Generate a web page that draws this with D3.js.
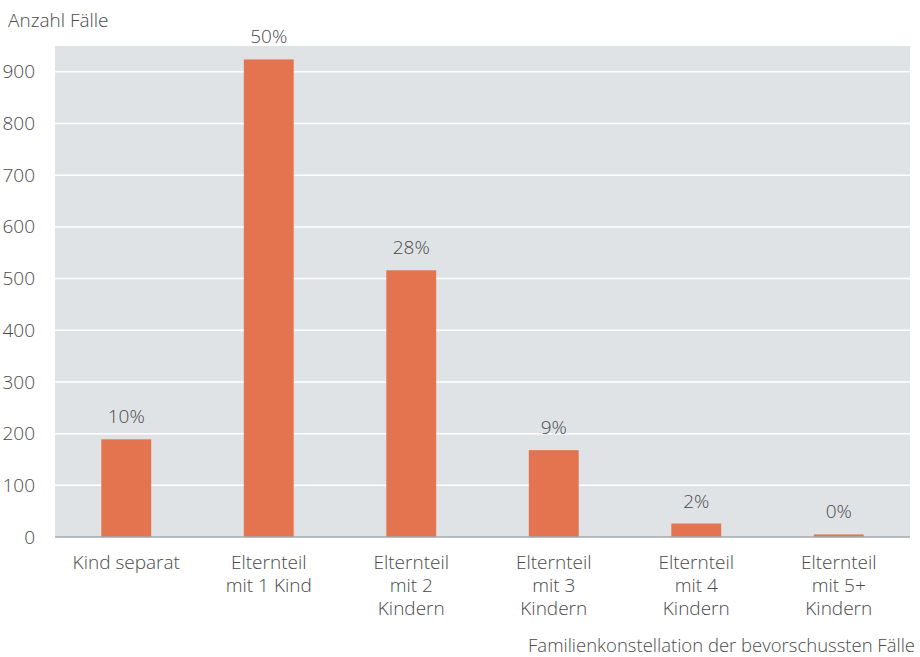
<!DOCTYPE html>
<html>
<head>
<meta charset="utf-8">
<script src="https://cdn.jsdelivr.net/npm/d3@7"></script>
<style>
  html, body { margin: 0; padding: 0; background: #fff; }
  svg { display: block; }
  text { font-family: "Open Sans", "Noto Sans", sans-serif; font-weight: 300; fill: #4a4a4a; }
</style>
</head>
<body>
<svg id="chart" width="920" height="657"></svg>
<script>
// Fälle nach Familienkonstellation
const categories = [
  ["Kind separat"],
  ["Elternteil", "mit 1 Kind"],
  ["Elternteil", "mit 2", "Kindern"],
  ["Elternteil", "mit 3", "Kindern"],
  ["Elternteil", "mit 4", "Kindern"],
  ["Elternteil", "mit 5+", "Kindern"]
];
const cases = [189, 924, 516, 168, 26, 5];
const shareLabels = ["10%", "50%", "28%", "9%", "2%", "0%"];
const yTicks = [0, 100, 200, 300, 400, 500, 600, 700, 800, 900];

const svg = d3.select("#chart");
const margin = { left: 55, right: 10, top: 46, bottom: 120 };
const W = 920, H = 657;
const plotBottom = 537;
const fs = 19;

const x = d3.scaleBand()
  .domain(d3.range(categories.length))
  .range([margin.left, W - margin.right])
  .paddingInner(0.65).paddingOuter(0.325);

const y = d3.scaleLinear().domain([0, 950]).range([plotBottom, margin.top]);

// plot background
svg.append("rect")
  .attr("x", margin.left).attr("y", margin.top)
  .attr("width", W - margin.right - margin.left)
  .attr("height", plotBottom - margin.top)
  .attr("fill", "#e0e3e6");

// horizontal gridlines
svg.append("g")
  .selectAll("line")
  .data(yTicks.filter(d => d > 0))
  .join("line")
  .attr("x1", margin.left).attr("x2", W - margin.right)
  .attr("y1", d => y(d)).attr("y2", d => y(d))
  .attr("stroke", "#ffffff").attr("stroke-width", 1.5);

// y axis labels
const yAxis = d3.axisLeft(y).tickValues(yTicks).tickSize(0).tickPadding(0);
const gy = svg.append("g").attr("transform", "translate(35,0)").call(yAxis);
gy.select(".domain").remove();
gy.selectAll("text")
  .attr("font-size", fs).attr("fill", "#4a4a4a")
  .style("font-family", "'Open Sans', 'Noto Sans', sans-serif")
  .style("font-weight", 300);

// bars
svg.append("g")
  .selectAll("rect")
  .data(cases)
  .join("rect")
  .attr("x", (d, i) => x(i))
  .attr("width", x.bandwidth())
  .attr("y", d => y(d))
  .attr("height", d => y(0) - y(d))
  .attr("fill", "#e4734f");

// baseline
svg.append("line")
  .attr("x1", margin.left).attr("x2", W - margin.right)
  .attr("y1", y(0)).attr("y2", y(0))
  .attr("stroke", "#a3a8ad").attr("stroke-width", 1.5);

// share labels above bars
svg.append("g")
  .selectAll("text")
  .data(cases)
  .join("text")
  .attr("x", (d, i) => x(i) + x.bandwidth() / 2)
  .attr("y", d => y(d) - 16)
  .attr("text-anchor", "middle")
  .attr("font-size", fs)
  .text((d, i) => shareLabels[i]);

// category labels, one text element per line
const catGroups = svg.append("g")
  .selectAll("g")
  .data(categories)
  .join("g")
  .attr("transform", (d, i) => `translate(${x(i) + x.bandwidth() / 2},569)`);
catGroups.selectAll("text")
  .data(d => d)
  .join("text")
  .attr("y", (d, j) => j * 23)
  .attr("text-anchor", "middle")
  .attr("font-size", fs)
  .text(d => d);

// axis titles
svg.append("text")
  .attr("x", 8).attr("y", 27)
  .attr("font-size", fs)
  .text("Anzahl Fälle");

svg.append("text")
  .attr("x", 915).attr("y", 652)
  .attr("text-anchor", "end")
  .attr("font-size", 18.5)
  .text("Familienkonstellation der bevorschussten Fälle");
</script>
</body>
</html>
